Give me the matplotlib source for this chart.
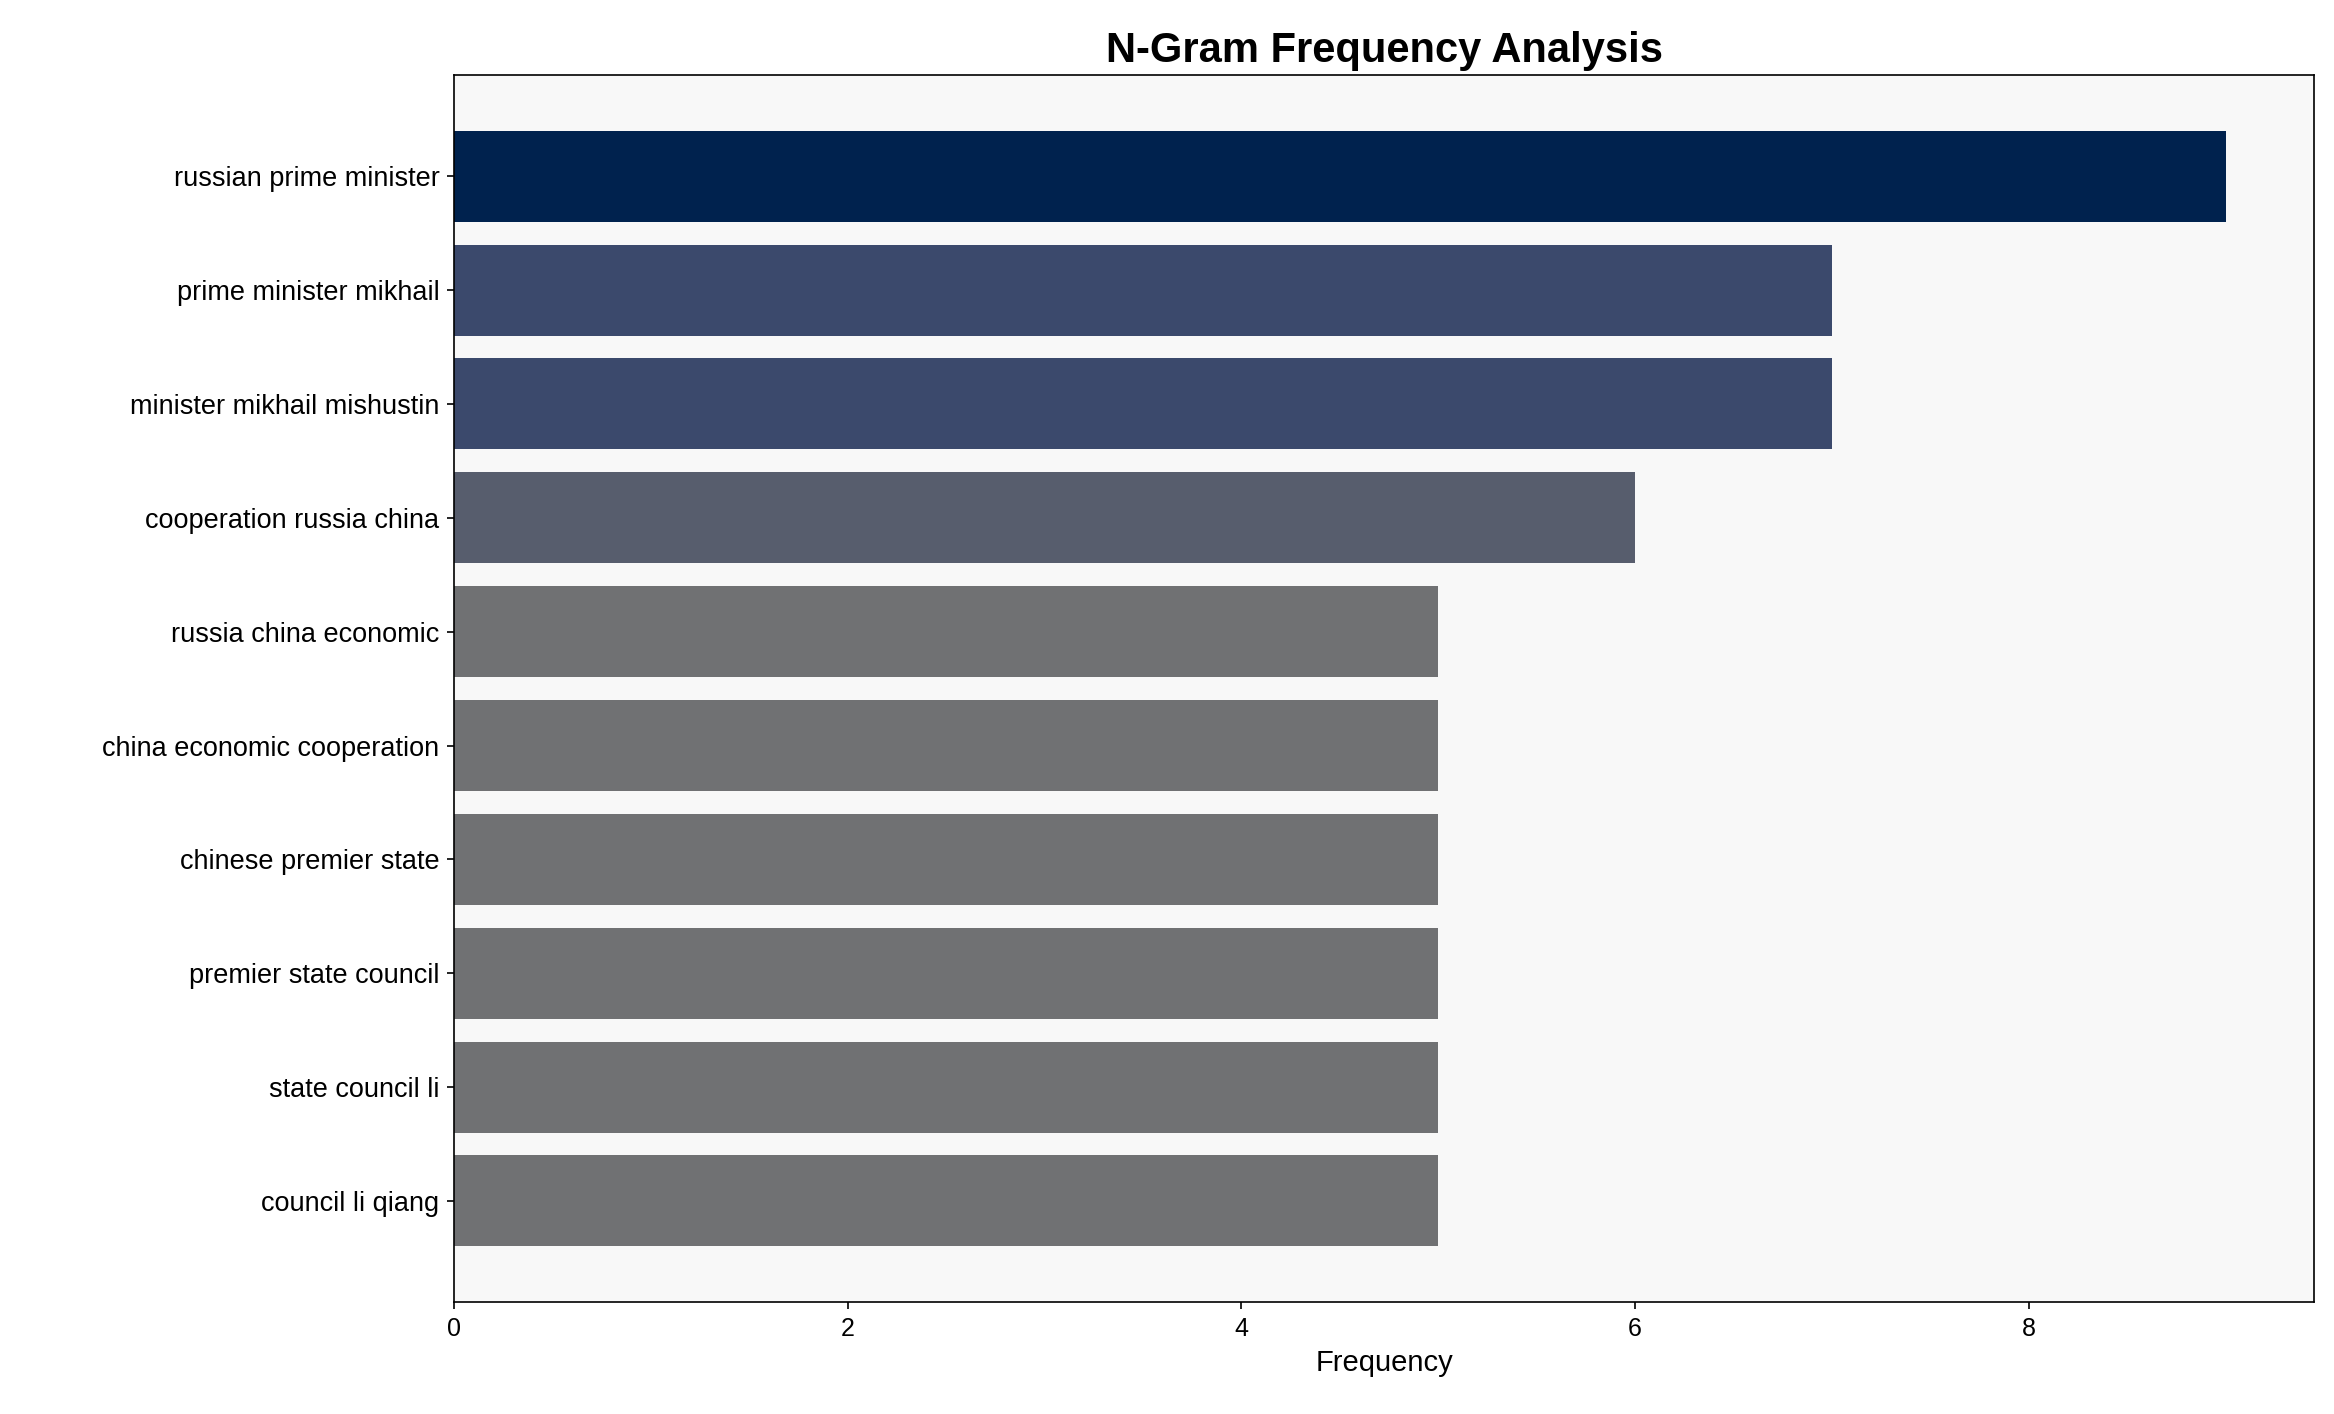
import matplotlib
matplotlib.use("Agg")
import matplotlib.pyplot as plt

labels = ["russian prime minister", "prime minister mikhail", "minister mikhail mishustin",
          "cooperation russia china", "russia china economic", "china economic cooperation",
          "chinese premier state", "premier state council", "state council li", "council li qiang"]
values = [9, 7, 7, 6, 5, 5, 5, 5, 5, 5]
colors = ["#00224e", "#3b496c", "#3b496c", "#575d6d"] + ["#707173"] * 6

plt.rcParams['font.family'] = ['Liberation Sans', 'DejaVu Sans']
fig = plt.figure(figsize=(15.56, 9.427), dpi=150)
ax = fig.add_axes([0.1945, 0.079, 0.797, 0.868])
ax.set_facecolor("#f8f8f8")
y = list(range(len(labels)))
ax.barh(y, values, color=colors, height=0.8)
ax.set_yticks(y)
ax.set_yticklabels(labels, fontsize=13)
ax.invert_yaxis()
ax.set_xlim(0, 9.45)
ax.tick_params(axis='x', labelsize=12)
ax.set_xlabel("Frequency", fontsize=14)
ax.set_title("N-Gram Frequency Analysis", fontsize=20, fontweight="bold")
fig.savefig("out.png", dpi=150)
